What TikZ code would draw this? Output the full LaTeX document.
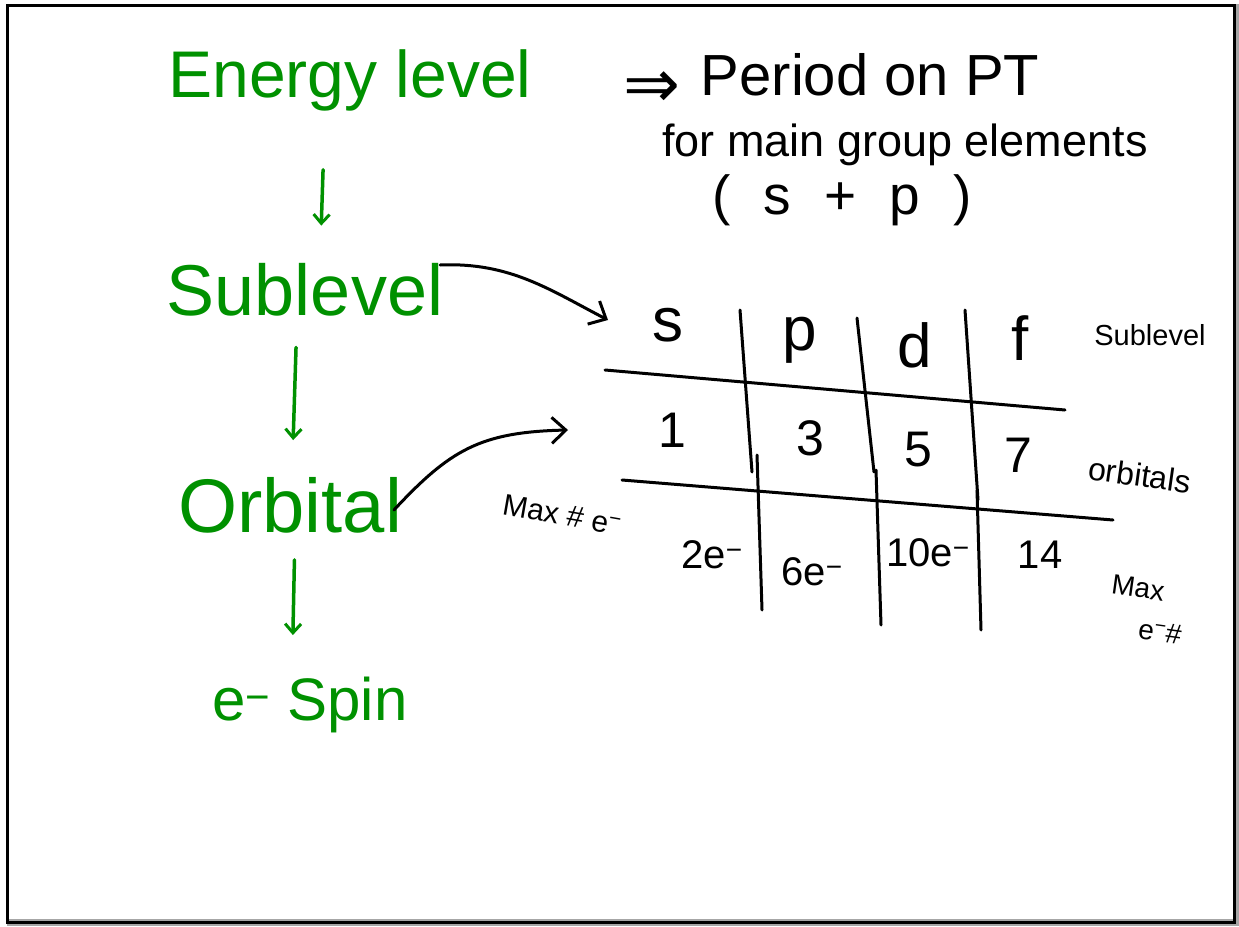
\documentclass[tikz,border=0pt]{standalone}
\usepackage{fontspec}
\setmainfont{Liberation Sans}
\newfontfamily\symf{DejaVu Sans}
\usetikzlibrary{arrows.meta}
\definecolor{pen}{RGB}{0,145,0}
\newcommand{\hfs}[1]{\fontsize{#1}{1.2\dimexpr #1pt\relax}\selectfont}
\newcommand{\emin}{e\textsuperscript{−}}
\begin{document}
\begin{tikzpicture}[x=1pt,y=-1pt,
  txt/.style={inner sep=0pt,outer sep=0pt},
  gtxt/.style={txt,text=pen},
  garrow/.style={draw=pen,line width=3.5pt,line cap=round,-{Straight Barb[length=9pt,width=16pt,line width=3pt]}},
  karrow/.style={draw=black,line width=3pt,line cap=round,-{Straight Barb[length=14pt,width=26pt,line width=3pt]}},
  rule/.style={draw=black,line width=3pt,line cap=round}]
\useasboundingbox (0,0) rectangle (1239,926);
\fill[white] (0,0) rectangle (1239,926);
\fill[gray!70] (1233,4) rectangle (1239,926);
\fill[gray!70] (7,919) rectangle (1239,926);
\draw[line width=3pt] (7.5,5) rectangle (1234.5,922);
% green hierarchy
\node[gtxt,font=\hfs{66}] (en) at (350,80) {Energy level};
\node[gtxt,font=\hfs{72}] (sub) at (305,290) {Sublevel};
\node[gtxt,font=\hfs{76}] (orb) at (290,505) {Orbital};
\node[gtxt,font=\hfs{60}] (spin) at (310,705) {\emin\ Spin};
\draw[garrow,shorten <=59pt,shorten >=38pt] ([xshift=-25pt]en.south) -- ([xshift=15pt]sub.north);
\draw[garrow,shorten <=31pt,shorten >=37pt] ([xshift=-8pt]sub.south) -- ([xshift=2pt]orb.north);
\draw[garrow,shorten <=27pt,shorten >=42pt] ([xshift=5pt]orb.south) -- ([xshift=-18pt]spin.north);
% top right note
\node[txt,font=\symf\hfs{68}] (imp) at (652,90) {⇒};
\node[txt,font=\hfs{58}] (per) at (870,75) {Period on PT};
\node[txt,font=\hfs{45}] (main) at (905,145) {for main group elements};
\node[txt,font=\hfs{55}] (sp) at (842,200) {(\hspace{.6em}s\hspace{.6em}+\hspace{.6em}p\hspace{.6em})};
% table
\node[txt,font=\hfs{62}] (cs) at (668,325) {s};
\node[txt,font=\hfs{62}] (cp) at (800,340) {p};
\node[txt,font=\hfs{62}] (cd) at (915,345) {d};
\node[txt,font=\hfs{62}] (cf) at (1020,338) {f};
\node[txt,font=\hfs{29}] (lsub) at (1150,335) {Sublevel};
\node[txt,font=\hfs{50}] (n1) at (672,430) {1};
\node[txt,font=\hfs{50}] (n3) at (810,438) {3};
\node[txt,font=\hfs{50}] (n5) at (918,450) {5};
\node[txt,font=\hfs{50}] (n7) at (1018,455) {7};
\node[txt,font=\hfs{32},rotate=-8] (lorb) at (1140,475) {orbitals};
\node[txt,font=\hfs{30},rotate=-10] (lmax) at (562,515) {Max \# \emin};
\node[txt,font=\hfs{40}] (m2) at (712,555) {2\emin};
\node[txt,font=\hfs{40}] (m6) at (812,572) {6\emin};
\node[txt,font=\hfs{40}] (m10) at (928,553) {10\emin};
\node[txt,font=\hfs{40}] (m14) at (1040,555) {14};
\node[txt,font=\hfs{28},rotate=-8] (lmx) at (1138,588) {Max};
\node[txt,font=\hfs{28},rotate=-8] (lmx2) at (1160,632) {\emin\#};
\draw[rule] (605,370) -- (1065,410);
\draw[rule] (622,480) -- (1113,520);
\draw[rule] (740,310) -- (752,472);
\draw[rule] (757,455) -- (762,610);
\draw[rule] (857,318) -- (874,472);
\draw[rule] (876,470) -- (881,625);
\draw[rule] (965,310) -- (978,500);
\draw[rule] (977,490) -- (981,630);
% arrows into table
\coordinate (tin) at (608,320);
\coordinate (tin2) at (568,430);
\draw[karrow] ([xshift=-3pt,yshift=25pt]sub.east) .. controls (510,262) and (550,290) .. (tin);
\draw[karrow] ([xshift=-8pt,yshift=-5pt]orb.east) .. controls (450,450) and (480,432) .. (tin2);
\end{tikzpicture}
\end{document}
